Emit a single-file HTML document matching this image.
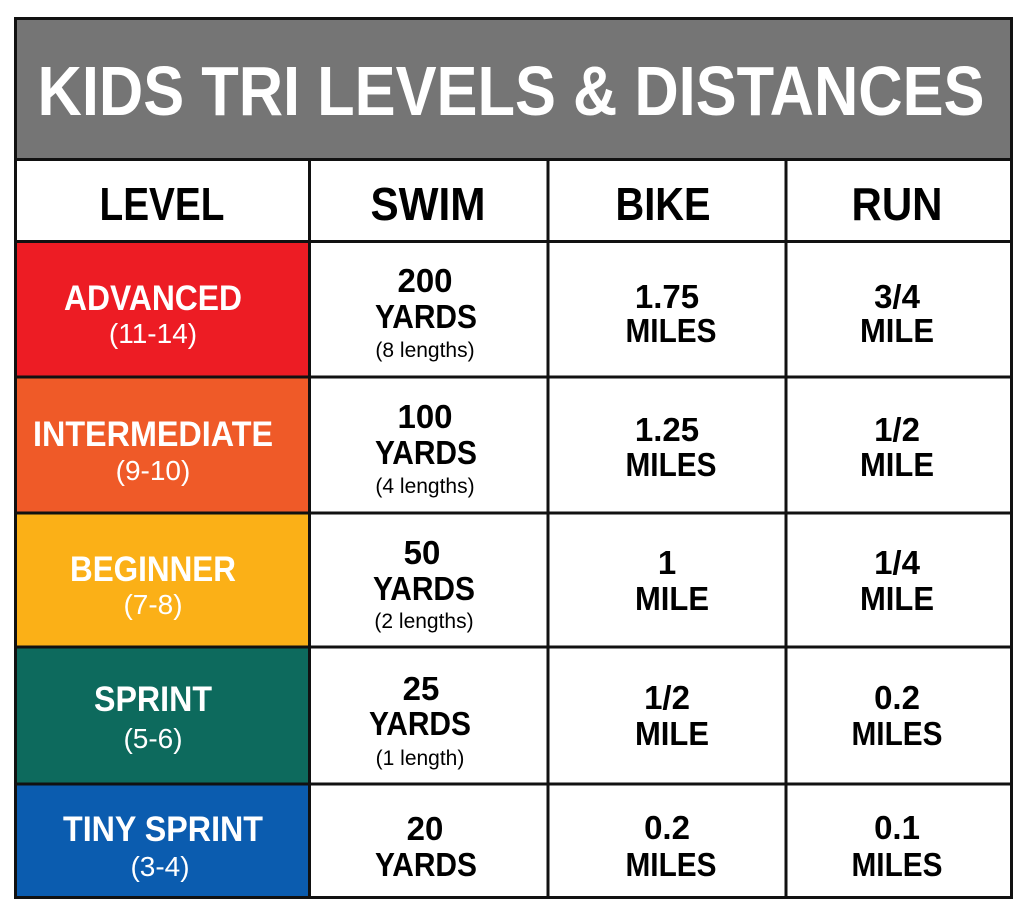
<!DOCTYPE html>
<html><head><meta charset="utf-8"><style>html,body{margin:0;padding:0;background:#fff}svg{display:block}</style></head>
<body>
<svg width="1024" height="910" xmlns="http://www.w3.org/2000/svg" font-family="Liberation Sans, sans-serif" font-weight="bold" text-anchor="middle">
<rect x="0" y="0" width="1024" height="910" fill="#fff"/>
<rect x="15" y="18" width="997" height="141" fill="#757575"/>
<rect x="15" y="241" width="295" height="136" fill="#ed1c24"/>
<rect x="15" y="377" width="295" height="136" fill="#ef5a28"/>
<rect x="15" y="513" width="295" height="134" fill="#fbb017"/>
<rect x="15" y="647" width="295" height="137" fill="#0d6a5d"/>
<rect x="15" y="784" width="295" height="114" fill="#0b5caf"/>
<g stroke="#111" stroke-width="3" fill="none">
<rect x="15.5" y="18.5" width="996" height="879"/>
<line x1="15" y1="159.5" x2="1012" y2="159.5"/>
<line x1="15" y1="241.5" x2="1012" y2="241.5"/>
<line x1="15" y1="377" x2="1012" y2="377"/>
<line x1="15" y1="513" x2="1012" y2="513"/>
<line x1="15" y1="647" x2="1012" y2="647"/>
<line x1="15" y1="784" x2="1012" y2="784"/>
<line x1="309.5" y1="159" x2="309.5" y2="898"/>
<line x1="548" y1="159" x2="548" y2="898"/>
<line x1="786" y1="159" x2="786" y2="898"/>
</g>
<text x="511" y="115" font-size="70" fill="#fff" textLength="947" lengthAdjust="spacingAndGlyphs">KIDS TRI LEVELS &amp; DISTANCES</text>
<g font-size="46" fill="#000">
<text x="162" y="220" textLength="125" lengthAdjust="spacingAndGlyphs">LEVEL</text>
<text x="428" y="220" textLength="115" lengthAdjust="spacingAndGlyphs">SWIM</text>
<text x="663" y="220" textLength="95" lengthAdjust="spacingAndGlyphs">BIKE</text>
<text x="897" y="220" textLength="91" lengthAdjust="spacingAndGlyphs">RUN</text>
</g>
<g fill="#fff">
<text x="153" y="310" font-size="35" textLength="178" lengthAdjust="spacingAndGlyphs">ADVANCED</text>
<text x="153" y="343" font-size="28" font-weight="normal">(11-14)</text>
<text x="153" y="446" font-size="35" textLength="240" lengthAdjust="spacingAndGlyphs">INTERMEDIATE</text>
<text x="153" y="480" font-size="28" font-weight="normal">(9-10)</text>
<text x="153" y="581" font-size="35" textLength="166" lengthAdjust="spacingAndGlyphs">BEGINNER</text>
<text x="153" y="614" font-size="28" font-weight="normal">(7-8)</text>
<text x="153" y="711" font-size="35" textLength="118" lengthAdjust="spacingAndGlyphs">SPRINT</text>
<text x="153" y="748" font-size="28" font-weight="normal">(5-6)</text>
<text x="163" y="841" font-size="35" textLength="200" lengthAdjust="spacingAndGlyphs">TINY SPRINT</text>
<text x="160" y="876" font-size="28" font-weight="normal">(3-4)</text>
</g>
<g fill="#000" font-size="33">
<text x="425" y="292">200</text><text x="426" y="328" textLength="102" lengthAdjust="spacingAndGlyphs">YARDS</text>
<text x="425" y="357" font-size="21" font-weight="normal">(8 lengths)</text>
<text x="425" y="428">100</text><text x="426" y="464" textLength="102" lengthAdjust="spacingAndGlyphs">YARDS</text>
<text x="425" y="493" font-size="21" font-weight="normal">(4 lengths)</text>
<text x="422" y="564">50</text><text x="424" y="600" textLength="102" lengthAdjust="spacingAndGlyphs">YARDS</text>
<text x="424" y="628" font-size="21" font-weight="normal">(2 lengths)</text>
<text x="421" y="700">25</text><text x="420" y="735" textLength="102" lengthAdjust="spacingAndGlyphs">YARDS</text>
<text x="420" y="765" font-size="21" font-weight="normal">(1 length)</text>
<text x="425" y="840">20</text><text x="426" y="876" textLength="102" lengthAdjust="spacingAndGlyphs">YARDS</text>

<text x="667" y="308">1.75</text><text x="671" y="342" textLength="91" lengthAdjust="spacingAndGlyphs">MILES</text>
<text x="667" y="441">1.25</text><text x="671" y="476" textLength="91" lengthAdjust="spacingAndGlyphs">MILES</text>
<text x="667" y="574">1</text><text x="672" y="610" textLength="74" lengthAdjust="spacingAndGlyphs">MILE</text>
<text x="667" y="709">1/2</text><text x="672" y="745" textLength="74" lengthAdjust="spacingAndGlyphs">MILE</text>
<text x="667" y="839">0.2</text><text x="671" y="876" textLength="91" lengthAdjust="spacingAndGlyphs">MILES</text>

<text x="897" y="308">3/4</text><text x="897" y="342" textLength="74" lengthAdjust="spacingAndGlyphs">MILE</text>
<text x="897" y="441">1/2</text><text x="897" y="476" textLength="74" lengthAdjust="spacingAndGlyphs">MILE</text>
<text x="897" y="574">1/4</text><text x="897" y="610" textLength="74" lengthAdjust="spacingAndGlyphs">MILE</text>
<text x="897" y="709">0.2</text><text x="897" y="745" textLength="91" lengthAdjust="spacingAndGlyphs">MILES</text>
<text x="897" y="839">0.1</text><text x="897" y="876" textLength="91" lengthAdjust="spacingAndGlyphs">MILES</text>
</g>
</svg>
</body></html>
